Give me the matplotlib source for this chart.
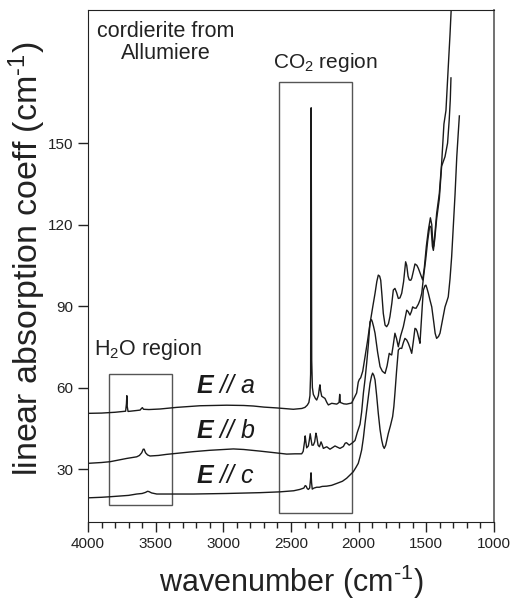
import matplotlib
matplotlib.use("Agg")
import matplotlib.pyplot as plt
from matplotlib.patches import Rectangle
from matplotlib.ticker import MultipleLocator

plt.rcParams['font.family'] = ['Liberation Sans', 'DejaVu Sans']
plt.rcParams['mathtext.fontset'] = 'custom'
plt.rcParams['mathtext.rm'] = 'Liberation Sans'
plt.rcParams['mathtext.it'] = 'Liberation Sans:italic'

# ---------------- data ----------------
wn_a = [4000, 3900, 3800, 3740, 3722, 3716, 3713, 3710, 3704, 3650, 3615, 3605, 3598, 3590,
        3550, 3468, 3345, 3172, 2975, 2850, 2778, 2700, 2606, 2483, 2420, 2397, 2380, 2368,
        2360, 2355, 2351, 2347, 2342, 2335, 2320, 2310, 2298, 2290, 2286, 2282, 2273, 2249,
        2235, 2224, 2199, 2162, 2145, 2140, 2135, 2110, 2089, 2052, 2035, 2015, 2003, 1995,
        1985, 1970, 1953, 1935, 1916, 1895, 1879, 1866, 1855, 1845, 1837, 1828, 1818, 1805,
        1793, 1780, 1769, 1755, 1744, 1732, 1720, 1707, 1695, 1682, 1668, 1653, 1645, 1635,
        1626, 1615, 1608, 1595, 1584, 1570, 1559, 1545, 1527, 1515, 1500, 1485, 1470, 1460,
        1452, 1446, 1436, 1424, 1404, 1387, 1370, 1355, 1338, 1325, 1316, 1312]
abs_a = [50.5, 50.6, 50.9, 51.2, 51.3, 54, 57, 53, 51.2, 51.5, 51.7, 52.3, 52.6, 52,
         51.9, 52.1, 52.7, 53.3, 53.5, 53.4, 53.2, 52.8, 52.5, 52.0, 52.3, 52.7, 53.5, 54.5,
         57, 65, 163, 70, 60, 57.5, 56, 55.4, 57, 60, 61, 59, 56.8, 56,
         54.5, 53.6, 54.2, 53.9, 54.5, 57.5, 54.5, 54, 53.9, 54.3, 56, 58, 62, 63,
         63.6, 66, 71.3, 77, 83.6, 90, 94.7, 99, 101.4, 101, 99.5, 94, 87.3, 83,
         82.4, 83.5, 86.1, 91, 95.9, 96.5, 95, 92.8, 93, 94.7, 99, 106.3, 105, 101,
         99.6, 99.5, 100.2, 103, 105.5, 105, 103.9, 102, 99.6, 104, 112, 118, 122.5, 120,
         113, 112, 117, 124, 131.5, 142.5, 157, 162, 178, 190, 199.5, 205]

wn_b = [4000, 3900, 3837, 3714, 3640, 3620, 3603, 3592, 3585, 3575, 3560, 3542, 3480, 3419,
        3300, 3222, 3100, 2926, 2850, 2729, 2620, 2532, 2470, 2421, 2410, 2400, 2395, 2390,
        2384, 2372, 2365, 2358, 2352, 2345, 2335, 2325, 2316, 2310, 2300, 2290, 2278, 2270,
        2261, 2236, 2212, 2190, 2175, 2155, 2138, 2113, 2100, 2090, 2070, 2050, 2027, 2010,
        1990, 1978, 1965, 1953, 1941, 1928, 1916, 1905, 1899, 1890, 1879, 1860, 1842, 1825,
        1805, 1790, 1774, 1765, 1756, 1745, 1732, 1720, 1707, 1690, 1670, 1655, 1645, 1635,
        1621, 1610, 1601, 1590, 1576, 1559, 1545, 1534, 1520, 1505, 1490, 1475, 1465, 1455,
        1448, 1438, 1424, 1404, 1387, 1362, 1343, 1331, 1323, 1318]
abs_b = [32.1, 32.4, 32.7, 33.9, 34.5, 35, 36, 37.3, 37.3, 36, 35.2, 34.8, 35, 35.4,
         36, 36.4, 36.9, 37.4, 37.2, 36.6, 36, 35.5, 35.6, 35.6, 36.5, 40, 42.2, 40,
         37.8, 38.5, 40.5, 43, 41, 38.8, 38.8, 40, 43.2, 42, 38.8, 38.2, 40, 39,
         37.6, 38.2, 37.3, 38, 38.5, 38, 37.6, 38.3, 39.5, 39.7, 38.8, 39.5, 40.5, 43.5,
         46.5, 51, 58, 63, 68.9, 76, 84.2, 85, 84.2, 82.5, 80, 73, 67.7, 66,
         65.2, 68, 72.6, 72.2, 72, 75.5, 80, 78, 75, 79, 82.4, 86, 88.5, 88,
         86.7, 88, 89.7, 89.3, 89.2, 90.7, 92.5, 94.7, 101, 107, 114, 119.5, 119, 112,
         110.5, 114.5, 122, 129.5, 141.5, 145, 150, 158.5, 166, 174]

wn_c = [4000, 3900, 3837, 3700, 3640, 3600, 3575, 3560, 3550, 3530, 3492, 3400, 3222, 2975,
        2729, 2581, 2480, 2434, 2405, 2395, 2388, 2380, 2372, 2362, 2356, 2352, 2348, 2343,
        2330, 2310, 2290, 2270, 2236, 2200, 2162, 2120, 2089, 2060, 2040, 2020, 2003, 1990,
        1978, 1965, 1953, 1935, 1916, 1905, 1897, 1888, 1879, 1867, 1855, 1842, 1830, 1820,
        1811, 1800, 1781, 1765, 1749, 1740, 1732, 1720, 1707, 1695, 1682, 1670, 1658, 1645,
        1633, 1620, 1608, 1596, 1584, 1575, 1567, 1555, 1547, 1540, 1530, 1522, 1510, 1503,
        1495, 1485, 1472, 1460, 1445, 1435, 1424, 1410, 1399, 1380, 1362, 1350, 1338, 1325,
        1313, 1300, 1288, 1275, 1265, 1256]
abs_c = [19.4, 19.6, 19.8, 20.3, 20.8, 21, 21.4, 21.8, 21.7, 21.2, 20.8, 20.8, 20.8, 21,
         21.3, 21.6, 22, 22.5, 23, 23.9, 23.7, 22.8, 22.5, 23, 26, 28.6, 25, 22.6,
         23, 23.3, 23.3, 23.6, 23.7, 24, 24.7, 25.5, 26.6, 28, 29, 30.6, 32.1, 34.5,
         37, 41.5, 46.8, 54, 61.5, 64.2, 65.3, 64.5, 62.8, 57, 50.5, 44.5, 40.7, 38.5,
         37.6, 38.8, 43.1, 46, 49.3, 53, 57.9, 66, 73.8, 74.5, 74.4, 76.5, 78.1, 77.5,
         76.3, 74.5, 72.6, 77, 81.8, 81.5, 80.5, 78, 76.3, 82, 90, 95.9, 97.5, 97.7,
         96.5, 94.7, 92, 89.7, 84, 80, 78.1, 78.8, 80, 85, 89.7, 91.5, 93.4, 100,
         108.1, 120, 131, 145, 153, 160]

# region boxes: (wn_left, wn_right, y_bottom, y_top)
h2o_box = (3843, 3377, 16.8, 65.0)
co2_box = (2586, 2047, 13.7, 172.6)

x_ticks = [4000, 3500, 3000, 2500, 2000, 1500, 1000]
y_ticks = [30, 60, 90, 120, 150]

# ---------------- figure ----------------
fig = plt.figure(figsize=(5.12, 6.02), dpi=100)
ax = fig.add_axes([88/512, 80/602, 406/512, 512/602])

line_col = '#1a1a1a'
for wn, ab in [(wn_a, abs_a), (wn_b, abs_b), (wn_c, abs_c)]:
    ax.plot(wn, ab, color=line_col, lw=1.0)

for (x0, x1, y0, y1) in [h2o_box, co2_box]:
    ax.add_patch(Rectangle((min(x0, x1), y0), abs(x0 - x1), y1 - y0,
                           fill=False, edgecolor='#555555', lw=1.0))

ax.set_xlim(4000, 1000)
ax.set_ylim(10.5, 199)
ax.set_xticks(x_ticks)
ax.set_yticks(y_ticks)
ax.xaxis.set_minor_locator(MultipleLocator(100))
ax.tick_params(axis='both', which='major', direction='out', length=7, width=1.0,
               labelsize=11, colors='#222222')
ax.tick_params(axis='x', which='minor', direction='out', length=4, width=1.0, colors='#222222')
for s in ['left', 'bottom', 'top']:
    ax.spines[s].set_color('#222222')
ax.spines['right'].set_color('#666666')
ax.spines['right'].set_linewidth(1.3)

ax.set_xlabel(r'wavenumber (cm$^{\text{-1}}$)', fontsize=22, color='#222222', labelpad=9)
ax.set_ylabel(r'linear absorption coeff (cm$^{\text{-1}}$)', fontsize=24.5, color='#222222')
ax.yaxis.set_label_coords(-0.098, 0.513)

ax.text(3424, 195, 'cordierite from\nAllumiere', ha='center', va='top', fontsize=15.5,
        color='#222222', linespacing=1.1, multialignment='center')
ax.text(2249, 177.6, 'CO$_2$ region', ha='center', va='baseline', fontsize=15, color='#222222')
ax.text(3557, 72, 'H$_2$O region', ha='center', va='baseline', fontsize=15.5, color='#222222')

for lab, yv in [('a', 56.0), ('b', 39.7), ('c', 22.9)]:
    tE = ax.text(3197, yv, 'E', fontsize=18, fontweight='bold', fontstyle='italic',
                 ha='left', va='bottom', color='#1a1a1a')
    ax.annotate(' // ' + lab, xy=(1, 0), xycoords=tE, fontsize=18, fontstyle='italic',
                ha='left', va='bottom', color='#1a1a1a')

fig.savefig('out.png', dpi=100)
